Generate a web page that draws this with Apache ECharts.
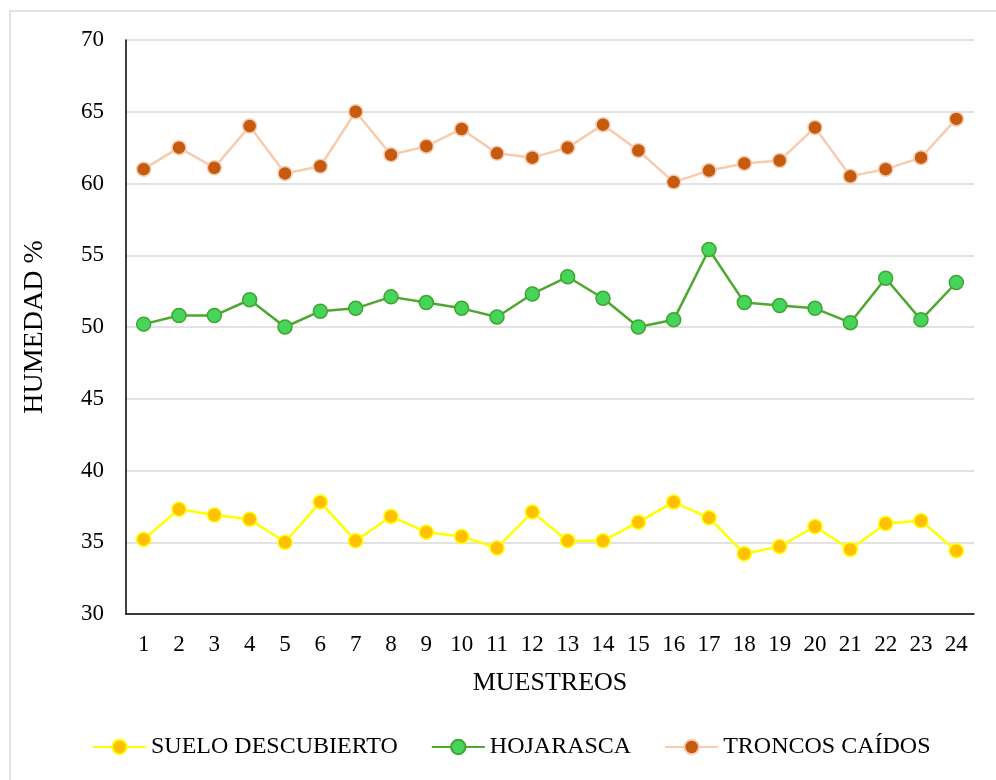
<!DOCTYPE html>
<html>
<head>
<meta charset="utf-8">
<script src="https://cdn.jsdelivr.net/npm/echarts@6/dist/echarts.min.js"></script>
<style>
  html, body { margin: 0; padding: 0; background: #fff; }
  #chart { width: 996px; height: 780px; }
</style>
</head>
<body>
<div id="chart"></div>
<script>
// muestreos 1..24
var muestreos = ['1', '2', '3', '4', '5', '6', '7', '8', '9', '10', '11', '12',
  '13', '14', '15', '16', '17', '18', '19', '20', '21', '22', '23', '24']

var sueloDescubierto = [35.2, 37.3, 36.9, 36.6, 35.0, 37.8, 35.1, 36.8, 35.7, 35.4, 34.6, 37.1,
  35.1, 35.1, 36.4, 37.8, 36.7, 34.2, 34.7, 36.1, 34.5, 36.3, 36.5, 34.4]

var hojarasca = [50.2, 50.8, 50.8, 51.9, 50.0, 51.1, 51.3, 52.1, 51.7, 51.3, 50.7, 52.3,
  53.5, 52.0, 50.0, 50.5, 55.4, 51.7, 51.5, 51.3, 50.3, 53.4, 50.5, 53.1]

var troncosCaidos = [61.0, 62.5, 61.1, 64.0, 60.7, 61.2, 65.0, 62.0, 62.6, 63.8, 62.1, 61.8,
  62.5, 64.1, 62.3, 60.1, 60.9, 61.4, 61.6, 63.9, 60.5, 61.0, 61.8, 64.5]

var fuente = 'Liberation Serif'

var chart = echarts.init(document.getElementById('chart'))

function serie(nombre, datos, linea, relleno, borde) {
  return {
    name: nombre,
    type: 'line',
    data: datos,
    symbol: 'circle',
    symbolSize: 14,
    lineStyle: { color: linea, width: 2.5 },
    itemStyle: { color: relleno, borderColor: borde, borderWidth: 1.5 },
    emphasis: { disabled: true }
  }
}

chart.setOption({
  animation: false,
  textStyle: { fontFamily: fuente },
  // marco gris alrededor del gráfico
  graphic: [{
    type: 'rect',
    shape: { x: 10, y: 11, width: 1000, height: 800 },
    style: { fill: 'none', stroke: '#d9d9d9', lineWidth: 1.5 },
    silent: true
  }],
  grid: {
    left: 126,
    right: 22,
    top: 40,
    bottom: 166
  },
  legend: {
    left: 92,
    top: 735,
    padding: 0,
    itemWidth: 53,
    itemHeight: 18,
    itemGap: 33,
    textStyle: { fontFamily: fuente, fontSize: 24, color: '#000' },
    data: ['SUELO DESCUBIERTO', 'HOJARASCA', 'TRONCOS CAÍDOS']
  },
  xAxis: {
    type: 'category',
    data: muestreos,
    boundaryGap: true,
    name: 'MUESTREOS',
    nameLocation: 'middle',
    nameGap: 56,
    nameTextStyle: { fontFamily: fuente, fontSize: 26, color: '#000' },
    axisLine: { lineStyle: { color: '#000', width: 1.5 } },
    axisTick: { show: false },
    axisLabel: { fontFamily: fuente, fontSize: 23, color: '#000', margin: 19, interval: 0 }
  },
  yAxis: {
    type: 'value',
    min: 30,
    max: 70,
    interval: 5,
    name: 'HUMEDAD %',
    nameLocation: 'middle',
    nameGap: 77,
    nameTextStyle: { fontFamily: fuente, fontSize: 28, color: '#000' },
    axisLine: { show: true, lineStyle: { color: '#000', width: 1.5 } },
    axisTick: { show: false },
    axisLabel: { fontFamily: fuente, fontSize: 23, color: '#000', margin: 22 },
    splitLine: { lineStyle: { color: '#d9d9d9', width: 1.5 } }
  },
  series: [
    serie('SUELO DESCUBIERTO', sueloDescubierto, '#ffff00', '#ffc000', '#ffff00'),
    serie('HOJARASCA', hojarasca, '#4ea72e', '#47d45a', '#3fa52f'),
    serie('TRONCOS CAÍDOS', troncosCaidos, '#f8cbad', '#c55a11', '#f8cbad')
  ]
})
</script>
</body>
</html>
